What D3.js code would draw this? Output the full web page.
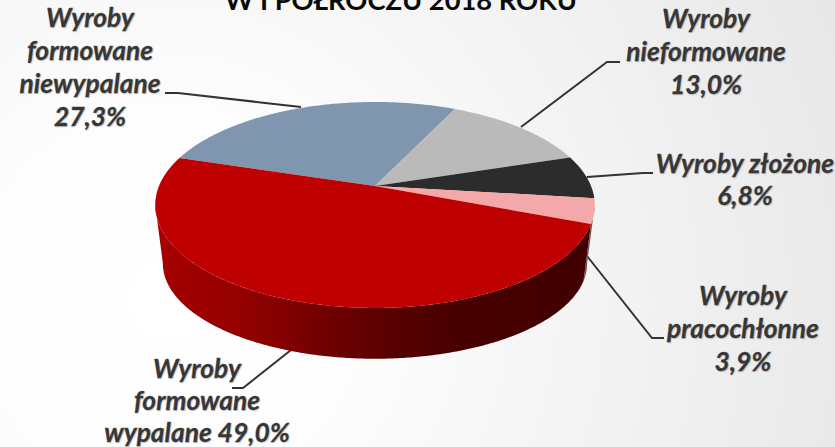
<!DOCTYPE html>
<html>
<head>
<meta charset="UTF-8" />
<title>document</title>
<script src="https://d3js.org/d3.v7.min.js"></script>
<style>
  html, body { margin: 0; padding: 0; background: #fff; }
  svg { display: block; }
  .title { font: bold 27.3px Lato, sans-serif; fill: #0a0a0a; text-anchor: middle; }
  .label { font: italic bold 26.4px Lato, sans-serif; fill: #383838; stroke: #383838; stroke-width: .3; text-anchor: middle;
           text-shadow: 1px 1px 1px rgba(0,0,0,.15); }
  .leader { fill: none; stroke: #333; stroke-width: 2; }
</style>
</head>
<body>
<script>
var categories = ["Wyroby formowane niewypalane", "Wyroby nieformowane", "Wyroby złożone", "Wyroby pracochłonne", "Wyroby formowane wypalane"];
var values = [27.3, 13.0, 6.8, 3.9, 49.0];
var titleText = "W I POŁROCZU 2018 ROKU";
var labelLines = [
  ["Wyroby", "formowane", "niewypalane", "27,3%"],
  ["Wyroby", "nieformowane", "13,0%"],
  ["Wyroby złożone", "6,8%"],
  ["Wyroby", "pracochłonne", "3,9%"],
  ["Wyroby", "formowane", "wypalane 49,0%"]
];
var colors = ["#8096ae", "#bababa", "#2c2c2c", "#f4a8a9", "#bf0000"];
var sideColors = ["#5a6a7a", "#808080", "#1a1a1a", "#6e5656", "url(#side)"];

// label placement: [centre x, first baseline, line height]
var labelPos = [[90, 27, 33], [706, 28, 33], [745, 173, 32], [743, 305, 33], [197, 378, 32]];
// leader lines: from the pie to the elbow and then on to the label
var leaders = [
  [[301, 107], [178, 93], [165, 93]],
  [[521, 127], [607, 62], [620, 62]],
  [[587, 177], [643, 173], [653, 173]],
  [[587, 256], [652, 338], [664, 338]],
  [[291, 350], [243, 388], [232, 388]]
];

var width = 835, height = 447;
var cx = 375;
var upper = { apex: 186, a: 216, b: 99.5 };
var lower = { apex: 246, a: 208.5, b: 92 };
var tilt = 0.184;
var start = -72.7 * Math.PI / 180;

// pie angle (clockwise from north) on to the tilted disc, far side is smaller
function project(t, rim) {
  var c = Math.sin(t), s = Math.cos(t), w = 1 + tilt * s;
  return [cx + rim.a * c / w, rim.apex - rim.b * s / w];
}

function angles(t0, t1) {
  var n = Math.max(2, Math.ceil((t1 - t0) / 0.01));
  return d3.range(n + 1).map(function(i) { return t0 + (t1 - t0) * i / n; });
}

var pie = d3.pie().sort(null).startAngle(start).endAngle(start + 2 * Math.PI);
var slices = pie(values);
var line = d3.line();

// only this part of the rim faces the viewer
var visFrom = Math.acos(-tilt), visTo = 2 * Math.PI - visFrom;
var rims = slices.map(function(d, i) {
  return { i: i, t0: Math.max(d.startAngle, visFrom), t1: Math.min(d.endAngle, visTo) };
}).filter(function(r) { return r.t1 > r.t0; });

var svg = d3.select("body").append("svg").attr("width", width).attr("height", height);
var defs = svg.append("defs");

var bg = defs.append("radialGradient").attr("id", "bg").attr("gradientUnits", "userSpaceOnUse")
  .attr("cx", 170).attr("cy", 300).attr("r", 760);
[[0, "#ffffff"], [0.25, "#fdfdfd"], [0.65, "#f1f1f1"], [1, "#e6e6e6"]].forEach(function(s) {
  bg.append("stop").attr("offset", s[0]).attr("stop-color", s[1]);
});

var side = defs.append("linearGradient").attr("id", "side").attr("gradientUnits", "userSpaceOnUse")
  .attr("x1", 155).attr("x2", 594).attr("y1", 0).attr("y2", 0);
[[0, "#a80000"], [0.2, "#930000"], [0.4, "#6f0000"], [0.55, "#560000"], [0.7, "#470000"], [1, "#420000"]].forEach(function(s) {
  side.append("stop").attr("offset", s[0]).attr("stop-color", s[1]);
});

svg.append("rect").attr("width", width).attr("height", height).attr("fill", "url(#bg)");

svg.append("text").attr("class", "title").attr("x", 401).attr("y", 10).text(titleText);

svg.selectAll(".leader").data(leaders).enter().append("path")
  .attr("class", "leader").attr("d", function(d) { return line(d); });

svg.selectAll(".rim").data(rims).enter().append("path")
  .attr("class", "rim")
  .attr("fill", function(d) { return sideColors[d.i]; })
  .attr("d", function(d) {
    var ts = angles(d.t0, d.t1);
    var pts = ts.map(function(t) { return project(t, upper); })
      .concat(ts.slice().reverse().map(function(t) { return project(t, lower); }));
    return line(pts) + "Z";
  });

svg.selectAll(".slice").data(slices).enter().append("path")
  .attr("class", "slice")
  .attr("fill", function(d, i) { return colors[i]; })
  .attr("d", function(d) {
    var pts = [[cx, upper.apex]].concat(angles(d.startAngle, d.endAngle).map(function(t) { return project(t, upper); }));
    return line(pts) + "Z";
  })
  .append("title").text(function(d, i) { return categories[i]; });

labelLines.forEach(function(lines, i) {
  var text = svg.append("text").attr("class", "label");
  lines.forEach(function(s, j) {
    text.append("tspan").attr("x", labelPos[i][0]).attr("y", labelPos[i][1] + j * labelPos[i][2]).text(s);
  });
});
</script>
</body>
</html>
